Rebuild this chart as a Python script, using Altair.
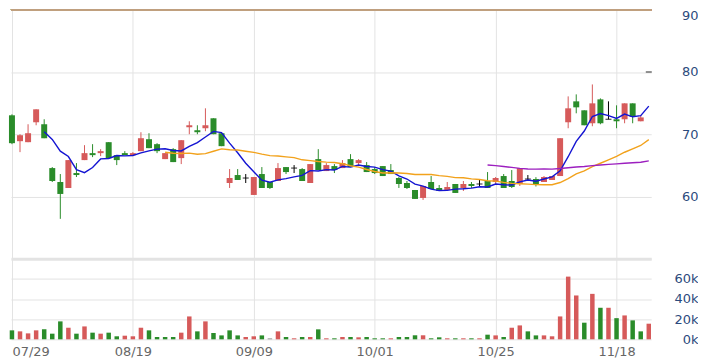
import altair as alt
import pandas as pd

# ---- data ----
opens = [73.04, 68.88, 68.72, 71.92, 71.6, 64.56, 62.32, 61.36, 63.76, 65.84,
         66.96, 66.96, 68.72, 66.64, 66.96, 66.64, 67.28, 69.2, 68.4, 66.0,
         67.6, 66.16, 71.12, 70.64, 70.96, 72.56, 70.16, 62.16, 63.44, 62.96,
         60.24, 63.6, 62.32, 62.48, 64.72, 64.56, 64.4, 62.16, 66.0, 64.08,
         64.88, 64.56, 66.0, 65.36, 65.04, 64.4, 64.88, 64.24, 62.96, 62.16,
         61.04, 59.76, 62.32, 61.36, 61.04, 62.0, 61.36, 62.0, 62.0, 62.48,
         62.32, 63.28, 62.48, 62.0, 62.8, 62.8, 62.32, 62.64, 63.28, 71.92,
         75.28, 73.84, 71.76, 75.6, 72.4, 72.4, 72.4, 74.96, 72.08, 80.0]
highs = [73.2, 70.0, 71.6, 74.0, 72.4, 64.72, 63.6, 65.84, 65.36, 68.24,
         68.4, 67.6, 68.72, 66.64, 67.28, 67.12, 70.32, 70.16, 68.56, 66.96,
         67.76, 69.04, 72.08, 71.44, 74.16, 72.56, 70.16, 64.4, 64.4, 63.6,
         63.12, 64.72, 62.32, 65.36, 64.72, 65.04, 64.56, 65.2, 67.6, 65.36,
         65.2, 65.84, 66.8, 66.0, 65.52, 64.72, 64.88, 65.2, 63.12, 62.48,
         61.04, 61.68, 63.28, 61.84, 62.32, 62.0, 62.48, 62.32, 62.64, 63.92,
         63.12, 63.6, 64.24, 64.56, 63.44, 63.1, 63.28, 63.28, 69.36, 76.08,
         76.4, 73.84, 78.0, 75.76, 75.28, 74.64, 74.96, 74.96, 73.04, 80.0]
lows = [68.4, 67.12, 68.72, 71.44, 69.36, 62.32, 56.4, 61.36, 63.12, 65.84,
        66.32, 66.48, 66.16, 65.04, 66.64, 66.48, 67.28, 67.76, 66.96, 66.0,
        65.52, 65.2, 70.0, 70.0, 70.48, 70.0, 68.08, 61.36, 62.64, 62.16,
        60.24, 61.36, 61.2, 62.48, 63.6, 63.76, 62.48, 62.16, 64.24, 64.08,
        63.76, 64.56, 64.72, 64.88, 63.92, 63.6, 63.28, 63.6, 61.36, 61.2,
        59.6, 59.44, 61.2, 60.88, 61.04, 60.56, 60.88, 61.36, 61.52, 61.36,
        62.0, 61.36, 61.36, 61.68, 62.48, 61.6, 62.32, 62.64, 63.28, 70.96,
        73.36, 71.44, 71.28, 71.6, 72.4, 70.96, 71.76, 71.76, 72.08, 80.0]
closes = [68.56, 69.84, 70.16, 74.0, 69.36, 62.48, 60.4, 65.84, 63.44, 66.96,
          66.64, 67.28, 66.16, 65.84, 66.64, 66.96, 69.36, 67.76, 67.28, 66.96,
          65.52, 69.04, 71.44, 70.32, 71.44, 70.0, 68.08, 62.96, 62.64, 62.96,
          63.12, 61.36, 61.36, 64.56, 63.92, 64.56, 62.48, 65.2, 64.24, 65.04,
          64.24, 65.36, 64.72, 65.84, 63.92, 63.76, 63.28, 63.6, 62.0, 61.36,
          59.6, 61.68, 61.2, 60.88, 61.52, 60.56, 62.0, 61.68, 62.0, 61.36,
          62.96, 61.36, 61.52, 64.56, 62.8, 62.0, 63.12, 63.28, 69.36, 74.16,
          74.32, 71.44, 74.96, 71.76, 72.4, 72.08, 74.96, 72.8, 72.7, 80.0]
volumes_k = [8.9, 7.9, 5.9, 8.9, 9.9, 5.6, 17.8, 11.5, 5.6, 12.8,
             6.6, 5.6, 6.6, 3.0, 3.6, 3.0, 11.5, 8.9, 2.3, 2.3,
             2.3, 6.6, 22.7, 7.9, 17.8, 6.3, 3.9, 8.9, 3.9, 2.3,
             3.0, 3.9, 1.0, 7.9, 2.3, 1.0, 2.3, 2.3, 9.9, 1.0,
             1.0, 2.3, 2.3, 2.0, 2.3, 1.0, 1.0, 1.0, 2.3, 2.3,
             4.0, 4.0, 1.0, 2.0, 1.0, 1.0, 1.0, 1.0, 1.0, 4.6,
             3.9, 2.3, 11.5, 13.8, 7.9, 3.9, 3.9, 3.0, 22.7, 62.2,
             43.5, 16.5, 45.1, 31.3, 31.3, 21.0, 23.7, 18.8, 7.9, 15.5]
tick_idx = [0, 15, 30, 45, 60, 75]
tick_labels = ["07/29", "08/19", "09/09", "10/01", "10/25", "11/18"]
price_ticks = [50, 60, 70, 80, 90]
vol_ticks = [0, 20, 40, 60, 80]
ma_windows = [5, 20, 60]
ma_names = ["MA5", "MA20", "MA60"]
ma_colors = ["#1414d2", "#f2a21c", "#9c1fbf"]

# ---- derived tables ----
n = len(closes)
df = pd.DataFrame({"i": list(range(n)), "open": opens, "high": highs,
                   "low": lows, "close": closes, "vol": volumes_k})
df["lo"] = df[["open", "close"]].min(axis=1)
df["hi"] = df[["open", "close"]].max(axis=1)
df["dir"] = ["up" if c > o else ("down" if c < o else "flat")
             for o, c in zip(opens, closes)]
vdir = []
for k in range(n):
    if k == 0:
        vdir.append(df["dir"][0])
    else:
        vdir.append("up" if closes[k] > closes[k - 1]
                    else ("down" if closes[k] < closes[k - 1] else "flat"))
df["vdir"] = vdir

ma_tables = []
for w, name in zip(ma_windows, ma_names):
    m = pd.DataFrame({"i": df["i"], "ma": df["close"].rolling(w).mean()})
    ma_tables.append(m.dropna())

RED = "#d65a5a"
GREEN = "#2a8c2a"
GRID = "#e3e3e3"
LABEL_BLUE = "#2b4a7c"

dir_scale = alt.Scale(domain=["up", "down", "flat"], range=[RED, GREEN, "#000000"])
vdir_scale = alt.Scale(domain=["up", "down", "flat"], range=[RED, GREEN, "#9a9a9a"])
xscale = alt.Scale(domain=[-0.12, 79.3], nice=False, zero=False, padding=0)

x_label_expr = " : ".join(
    f"datum.value == {v} ? '{t}'" for v, t in zip(tick_idx, tick_labels)) + " : ''"

x_axis_top = alt.Axis(values=tick_idx, labels=False, ticks=False, domain=False,
                      grid=True, gridColor=GRID, title=None)
x_axis_bottom = alt.Axis(values=tick_idx, labelExpr=x_label_expr, ticks=False,
                         tickSize=0, domain=False, grid=True, gridColor=GRID,
                         title=None, labelFlush=3, labelPadding=6,
                         labelColor="#666666", labelFontSize=13,
                         labelFont="DejaVu Sans")

py_scale = alt.Scale(domain=[50, 90], nice=False, zero=False, padding=0)
py_axis = alt.Axis(orient="right", values=price_ticks,
                   labelExpr="datum.value == 50 ? '' : datum.label",
                   ticks=False, tickSize=0, domain=False, grid=True,
                   gridColor=GRID, title=None, labelAlign="right",
                   labelPadding=47, labelFlush=True, labelColor=LABEL_BLUE,
                   labelFontSize=13, labelFont="DejaVu Sans")

vy_scale = alt.Scale(domain=[0, 80], nice=False, zero=True, padding=0)
vy_axis = alt.Axis(orient="right", values=vol_ticks,
                   labelExpr="datum.value == 80 ? '' : datum.value + 'k'",
                   ticks=False, tickSize=0, domain=False, grid=True,
                   gridColor=GRID,
                   gridWidth={"condition": {"test": "datum.value == 80", "value": 3}, "value": 1},
                   title=None, labelAlign="right", labelPadding=47,
                   labelColor=LABEL_BLUE, labelFontSize=13,
                   labelFont="DejaVu Sans")


def X():
    return alt.X("i:Q", scale=xscale, axis=x_axis_top)


def PY(field):
    return alt.Y(field, scale=py_scale, axis=py_axis)


base = alt.Chart(df)

wicks = base.mark_rule(strokeWidth=1).encode(
    x=X(), y=PY("low:Q"), y2="high:Q",
    color=alt.Color("dir:N", scale=dir_scale, legend=None))

bodies = base.transform_filter("datum.dir != 'flat'").mark_bar(size=6).encode(
    x=X(), y=PY("lo:Q"), y2="hi:Q",
    color=alt.Color("dir:N", scale=dir_scale, legend=None))

dojis = base.transform_filter("datum.dir == 'flat'").mark_tick(
    orient="horizontal", size=6, thickness=1.2, color="#000000").encode(
    x=X(), y=PY("open:Q"))

ma_layers = [
    alt.Chart(t).mark_line(strokeWidth=1.4, color=c).encode(x=X(), y=PY("ma:Q"))
    for t, c in zip(ma_tables, ma_colors)
]

top_line = base.mark_rule(color="#bf9f7f", strokeWidth=1.5).encode(
    y=alt.Y(datum=90, scale=py_scale, axis=py_axis))

price = alt.layer(top_line, wicks, bodies, dojis, *ma_layers).properties(
    width=643, height=250)

volume = base.mark_bar(size=4.5).encode(
    x=alt.X("i:Q", scale=xscale, axis=x_axis_bottom),
    y=alt.Y("vol:Q", scale=vy_scale, axis=vy_axis),
    color=alt.Color("vdir:N", scale=vdir_scale, legend=None)
).properties(width=643, height=81)

chart = alt.vconcat(price, volume, spacing=0).properties(
    padding={"left": 0, "top": 0, "right": 0, "bottom": 0},
    background="#ffffff"
).resolve_scale(color="independent").configure_view(stroke=None)

chart.save("out.html", embed_options={"renderer": "svg", "actions": False})
